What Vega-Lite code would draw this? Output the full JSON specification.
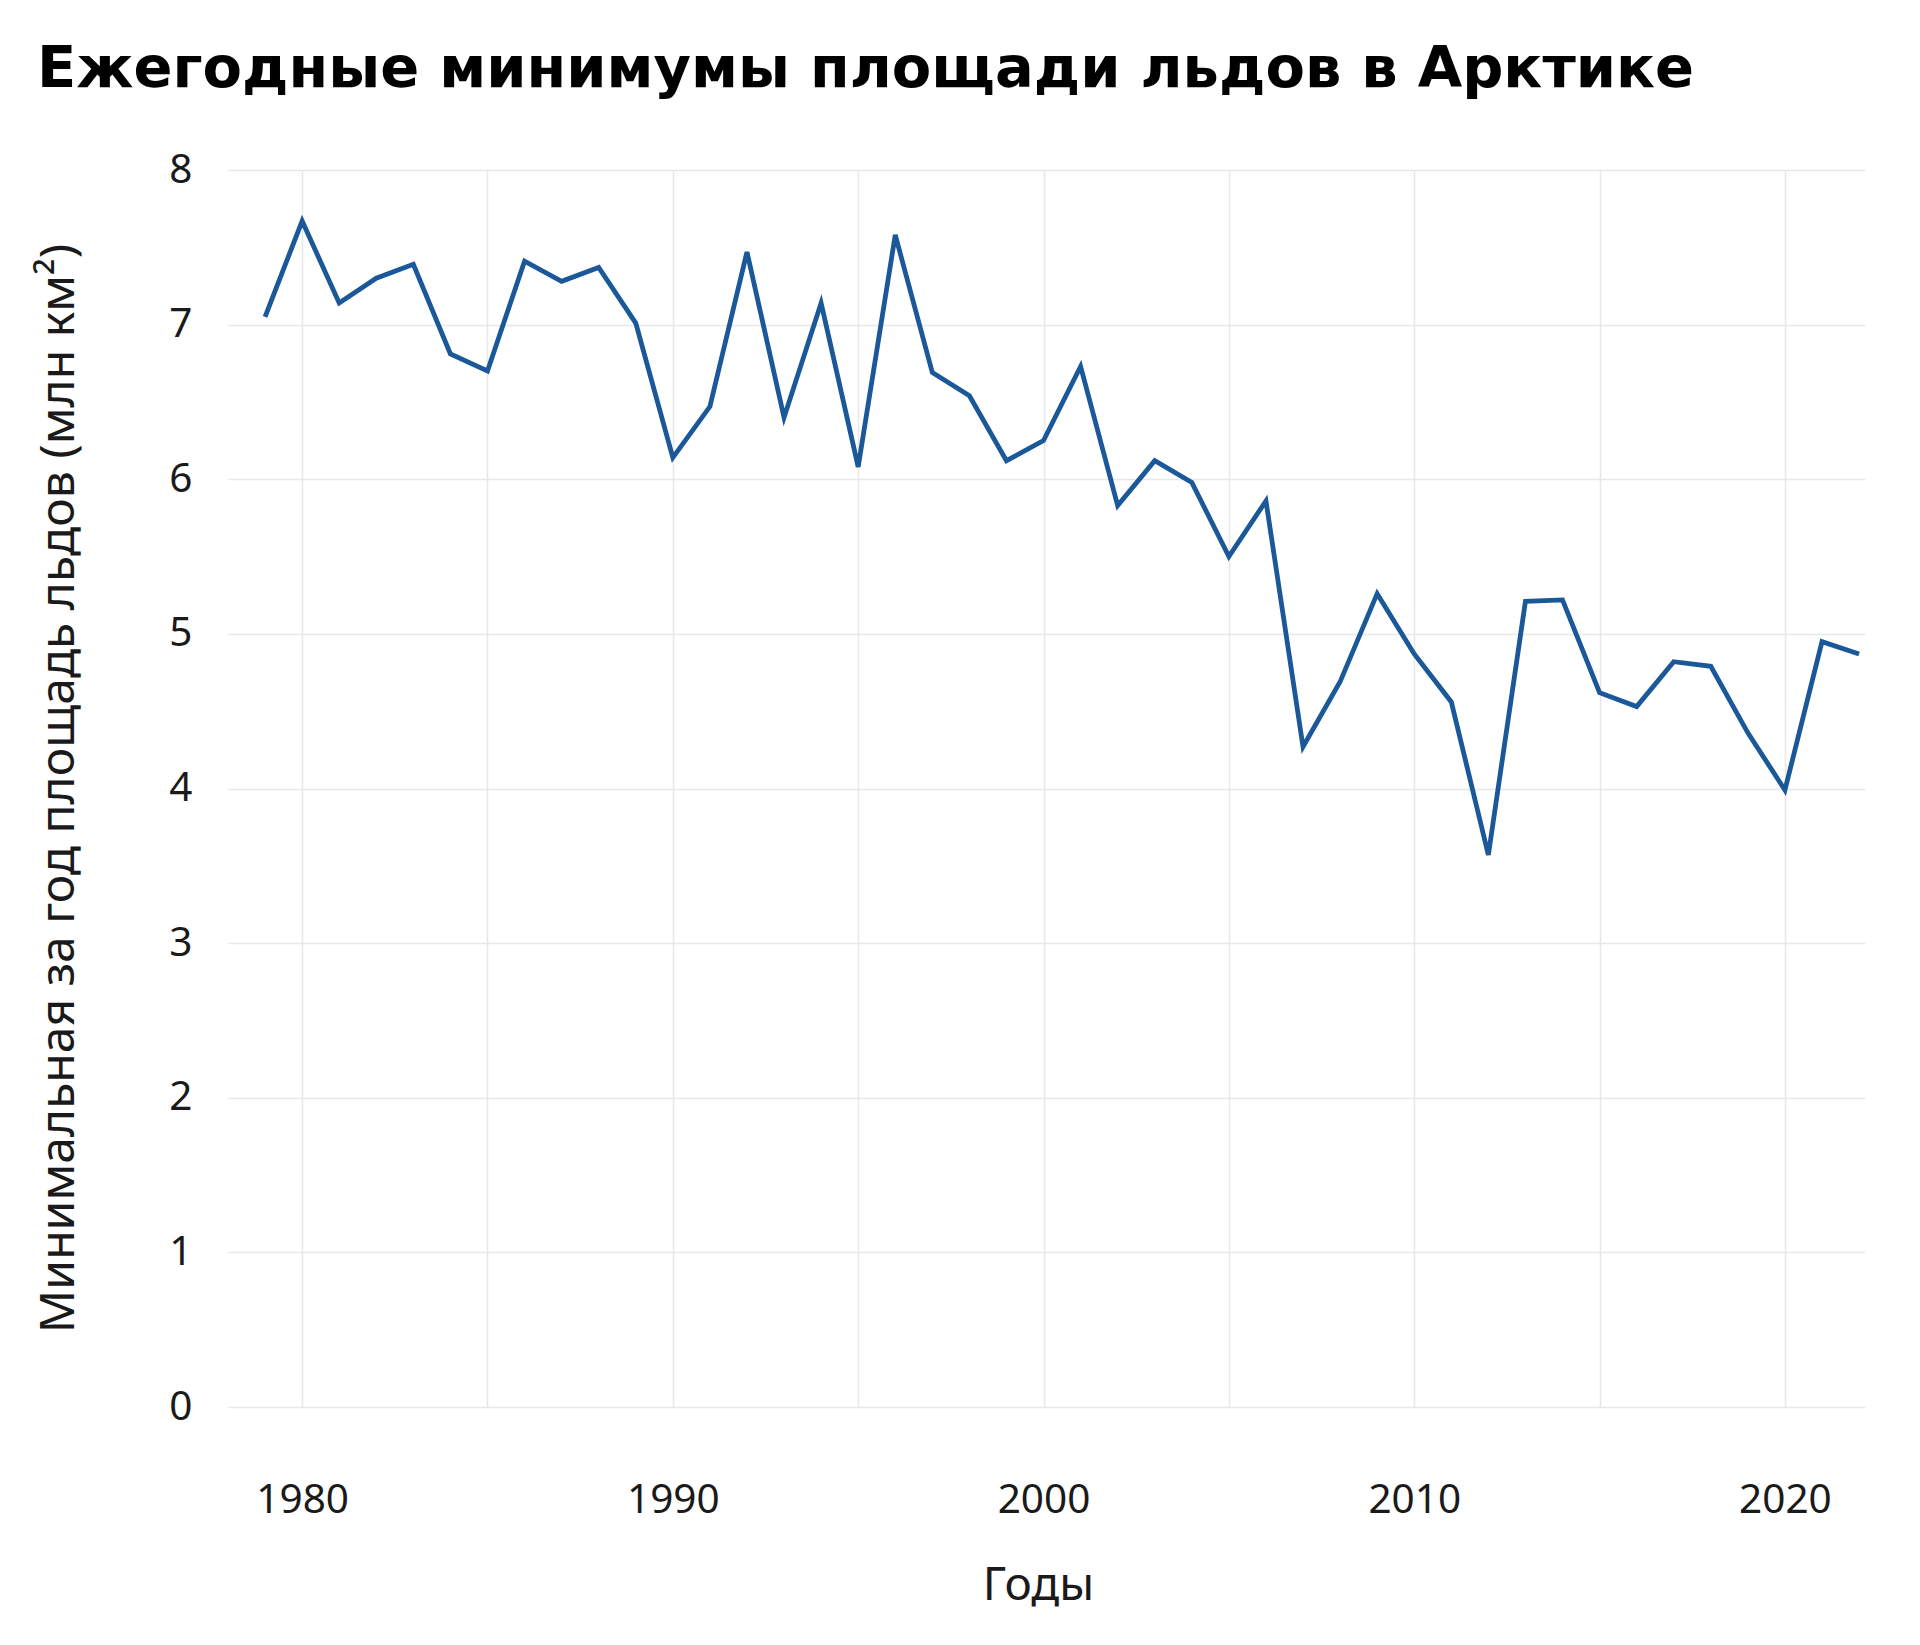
{
  "$schema": "https://vega.github.io/schema/vega-lite/v6.json",
  "width": 1637,
  "height": 1237,
  "autosize": {"type": "none"},
  "padding": {"left": 228, "top": 170, "right": 55, "bottom": 238},
  "background": "white",
  "config": {"view": {"stroke": null}, "font": "Noto Sans"},
  "title": {
    "text": "Ежегодные минимумы площади льдов в Арктике",
    "anchor": "start",
    "frame": "group",
    "font": "DejaVu Sans",
    "fontSize": 57.5,
    "fontWeight": "bold",
    "color": "#000000",
    "dx": -191,
    "baseline": "alphabetic",
    "offset": 6
  },
  "data": {
    "values": [
      {"year": 1979, "extent": 7.05}, {"year": 1980, "extent": 7.67}, {"year": 1981, "extent": 7.14},
      {"year": 1982, "extent": 7.30}, {"year": 1983, "extent": 7.39}, {"year": 1984, "extent": 6.81},
      {"year": 1985, "extent": 6.70}, {"year": 1986, "extent": 7.41}, {"year": 1987, "extent": 7.28},
      {"year": 1988, "extent": 7.37}, {"year": 1989, "extent": 7.01}, {"year": 1990, "extent": 6.14},
      {"year": 1991, "extent": 6.47}, {"year": 1992, "extent": 7.47}, {"year": 1993, "extent": 6.40},
      {"year": 1994, "extent": 7.14}, {"year": 1995, "extent": 6.08}, {"year": 1996, "extent": 7.58},
      {"year": 1997, "extent": 6.69}, {"year": 1998, "extent": 6.54}, {"year": 1999, "extent": 6.12},
      {"year": 2000, "extent": 6.25}, {"year": 2001, "extent": 6.73}, {"year": 2002, "extent": 5.83},
      {"year": 2003, "extent": 6.12}, {"year": 2004, "extent": 5.98}, {"year": 2005, "extent": 5.50},
      {"year": 2006, "extent": 5.86}, {"year": 2007, "extent": 4.27}, {"year": 2008, "extent": 4.69},
      {"year": 2009, "extent": 5.26}, {"year": 2010, "extent": 4.87}, {"year": 2011, "extent": 4.56},
      {"year": 2012, "extent": 3.57}, {"year": 2013, "extent": 5.21}, {"year": 2014, "extent": 5.22},
      {"year": 2015, "extent": 4.62}, {"year": 2016, "extent": 4.53}, {"year": 2017, "extent": 4.82},
      {"year": 2018, "extent": 4.79}, {"year": 2019, "extent": 4.36}, {"year": 2020, "extent": 3.99},
      {"year": 2021, "extent": 4.95}, {"year": 2022, "extent": 4.87}
    ]
  },
  "mark": {"type": "line", "color": "#1a5899", "strokeWidth": 4.8, "strokeJoin": "miter"},
  "encoding": {
    "x": {
      "field": "year",
      "type": "quantitative",
      "scale": {"domain": [1978, 2022.16], "nice": false, "zero": false},
      "axis": {
        "title": "Годы",
        "values": [1980, 1985, 1990, 1995, 2000, 2005, 2010, 2015, 2020],
        "labelExpr": "datum.value % 10 == 0 ? datum.label : ''",
        "format": "d",
        "domain": false,
        "ticks": false,
        "tickSize": 0,
        "grid": true,
        "gridColor": "#e8e8e8",
        "gridWidth": 1.5,
        "labelFont": "Noto Sans",
        "labelFontSize": 40.5,
        "labelColor": "#1a1a1a",
        "labelBaseline": "middle",
        "labelPadding": 93,
        "labelFlush": false,
        "labelOverlap": false,
        "titleFont": "Noto Sans",
        "titleFontSize": 46,
        "titleFontWeight": "normal",
        "titleColor": "#1a1a1a",
        "titleBaseline": "middle",
        "titleX": 810,
        "titleY": 178
      }
    },
    "y": {
      "field": "extent",
      "type": "quantitative",
      "scale": {"domain": [0, 8], "nice": false},
      "axis": {
        "title": "Минимальная за год площадь льдов (млн км²)",
        "values": [0, 1, 2, 3, 4, 5, 6, 7, 8],
        "domain": false,
        "ticks": false,
        "tickSize": 0,
        "grid": true,
        "gridColor": "#e8e8e8",
        "gridWidth": 1.5,
        "labelFont": "Noto Sans",
        "labelFontSize": 40.5,
        "labelColor": "#1a1a1a",
        "labelPadding": 36,
        "labelFlush": false,
        "titleFont": "Noto Sans",
        "titleFontSize": 48,
        "titleFontWeight": "normal",
        "titleColor": "#1a1a1a",
        "titleBaseline": "middle",
        "titleX": -169,
        "titleY": 618
      }
    }
  }
}
